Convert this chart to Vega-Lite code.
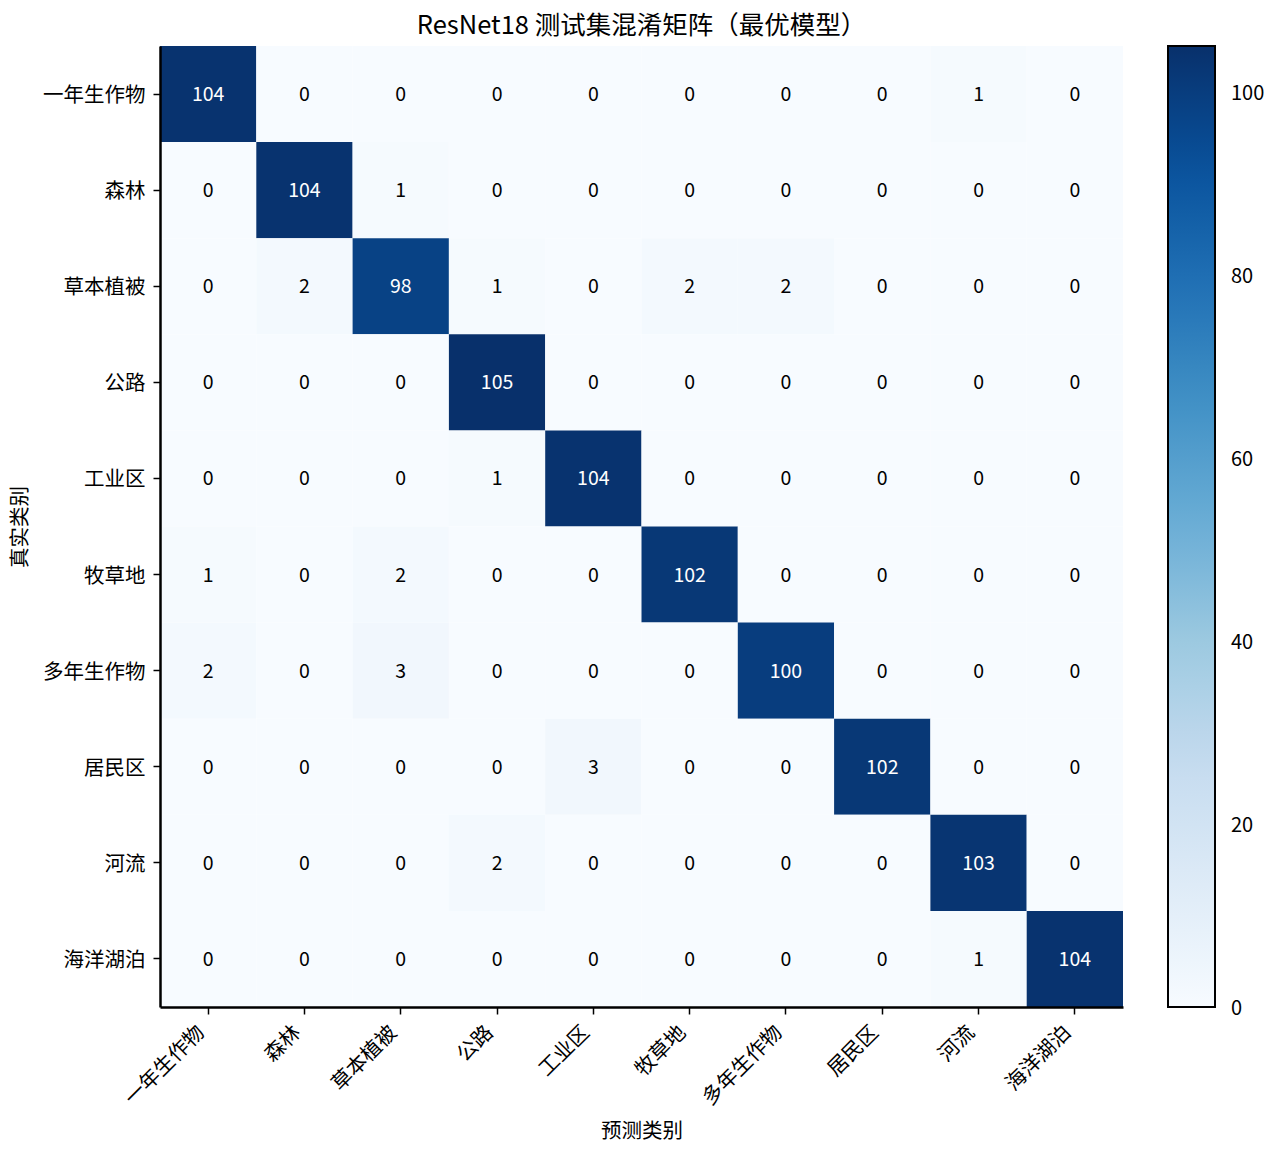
{
  "$schema": "https://vega.github.io/schema/vega-lite/v6.json",
  "description": "ResNet18 confusion matrix on the test set",
  "autosize": "none",
  "padding": {"left": 160, "top": 46, "right": 157, "bottom": 144},
  "width": 963,
  "height": 961,
  "title": {
    "text": "ResNet18 测试集混淆矩阵（最优模型）",
    "fontSize": 25.5,
    "fontWeight": "normal",
    "font": "Noto Sans CJK SC",
    "color": "black",
    "anchor": "middle",
    "frame": "group",
    "offset": 7
  },
  "data": {
    "values": [
      {"actual": "一年生作物", "predicted": "一年生作物", "count": 104},
      {"actual": "一年生作物", "predicted": "森林", "count": 0},
      {"actual": "一年生作物", "predicted": "草本植被", "count": 0},
      {"actual": "一年生作物", "predicted": "公路", "count": 0},
      {"actual": "一年生作物", "predicted": "工业区", "count": 0},
      {"actual": "一年生作物", "predicted": "牧草地", "count": 0},
      {"actual": "一年生作物", "predicted": "多年生作物", "count": 0},
      {"actual": "一年生作物", "predicted": "居民区", "count": 0},
      {"actual": "一年生作物", "predicted": "河流", "count": 1},
      {"actual": "一年生作物", "predicted": "海洋湖泊", "count": 0},
      {"actual": "森林", "predicted": "一年生作物", "count": 0},
      {"actual": "森林", "predicted": "森林", "count": 104},
      {"actual": "森林", "predicted": "草本植被", "count": 1},
      {"actual": "森林", "predicted": "公路", "count": 0},
      {"actual": "森林", "predicted": "工业区", "count": 0},
      {"actual": "森林", "predicted": "牧草地", "count": 0},
      {"actual": "森林", "predicted": "多年生作物", "count": 0},
      {"actual": "森林", "predicted": "居民区", "count": 0},
      {"actual": "森林", "predicted": "河流", "count": 0},
      {"actual": "森林", "predicted": "海洋湖泊", "count": 0},
      {"actual": "草本植被", "predicted": "一年生作物", "count": 0},
      {"actual": "草本植被", "predicted": "森林", "count": 2},
      {"actual": "草本植被", "predicted": "草本植被", "count": 98},
      {"actual": "草本植被", "predicted": "公路", "count": 1},
      {"actual": "草本植被", "predicted": "工业区", "count": 0},
      {"actual": "草本植被", "predicted": "牧草地", "count": 2},
      {"actual": "草本植被", "predicted": "多年生作物", "count": 2},
      {"actual": "草本植被", "predicted": "居民区", "count": 0},
      {"actual": "草本植被", "predicted": "河流", "count": 0},
      {"actual": "草本植被", "predicted": "海洋湖泊", "count": 0},
      {"actual": "公路", "predicted": "一年生作物", "count": 0},
      {"actual": "公路", "predicted": "森林", "count": 0},
      {"actual": "公路", "predicted": "草本植被", "count": 0},
      {"actual": "公路", "predicted": "公路", "count": 105},
      {"actual": "公路", "predicted": "工业区", "count": 0},
      {"actual": "公路", "predicted": "牧草地", "count": 0},
      {"actual": "公路", "predicted": "多年生作物", "count": 0},
      {"actual": "公路", "predicted": "居民区", "count": 0},
      {"actual": "公路", "predicted": "河流", "count": 0},
      {"actual": "公路", "predicted": "海洋湖泊", "count": 0},
      {"actual": "工业区", "predicted": "一年生作物", "count": 0},
      {"actual": "工业区", "predicted": "森林", "count": 0},
      {"actual": "工业区", "predicted": "草本植被", "count": 0},
      {"actual": "工业区", "predicted": "公路", "count": 1},
      {"actual": "工业区", "predicted": "工业区", "count": 104},
      {"actual": "工业区", "predicted": "牧草地", "count": 0},
      {"actual": "工业区", "predicted": "多年生作物", "count": 0},
      {"actual": "工业区", "predicted": "居民区", "count": 0},
      {"actual": "工业区", "predicted": "河流", "count": 0},
      {"actual": "工业区", "predicted": "海洋湖泊", "count": 0},
      {"actual": "牧草地", "predicted": "一年生作物", "count": 1},
      {"actual": "牧草地", "predicted": "森林", "count": 0},
      {"actual": "牧草地", "predicted": "草本植被", "count": 2},
      {"actual": "牧草地", "predicted": "公路", "count": 0},
      {"actual": "牧草地", "predicted": "工业区", "count": 0},
      {"actual": "牧草地", "predicted": "牧草地", "count": 102},
      {"actual": "牧草地", "predicted": "多年生作物", "count": 0},
      {"actual": "牧草地", "predicted": "居民区", "count": 0},
      {"actual": "牧草地", "predicted": "河流", "count": 0},
      {"actual": "牧草地", "predicted": "海洋湖泊", "count": 0},
      {"actual": "多年生作物", "predicted": "一年生作物", "count": 2},
      {"actual": "多年生作物", "predicted": "森林", "count": 0},
      {"actual": "多年生作物", "predicted": "草本植被", "count": 3},
      {"actual": "多年生作物", "predicted": "公路", "count": 0},
      {"actual": "多年生作物", "predicted": "工业区", "count": 0},
      {"actual": "多年生作物", "predicted": "牧草地", "count": 0},
      {"actual": "多年生作物", "predicted": "多年生作物", "count": 100},
      {"actual": "多年生作物", "predicted": "居民区", "count": 0},
      {"actual": "多年生作物", "predicted": "河流", "count": 0},
      {"actual": "多年生作物", "predicted": "海洋湖泊", "count": 0},
      {"actual": "居民区", "predicted": "一年生作物", "count": 0},
      {"actual": "居民区", "predicted": "森林", "count": 0},
      {"actual": "居民区", "predicted": "草本植被", "count": 0},
      {"actual": "居民区", "predicted": "公路", "count": 0},
      {"actual": "居民区", "predicted": "工业区", "count": 3},
      {"actual": "居民区", "predicted": "牧草地", "count": 0},
      {"actual": "居民区", "predicted": "多年生作物", "count": 0},
      {"actual": "居民区", "predicted": "居民区", "count": 102},
      {"actual": "居民区", "predicted": "河流", "count": 0},
      {"actual": "居民区", "predicted": "海洋湖泊", "count": 0},
      {"actual": "河流", "predicted": "一年生作物", "count": 0},
      {"actual": "河流", "predicted": "森林", "count": 0},
      {"actual": "河流", "predicted": "草本植被", "count": 0},
      {"actual": "河流", "predicted": "公路", "count": 2},
      {"actual": "河流", "predicted": "工业区", "count": 0},
      {"actual": "河流", "predicted": "牧草地", "count": 0},
      {"actual": "河流", "predicted": "多年生作物", "count": 0},
      {"actual": "河流", "predicted": "居民区", "count": 0},
      {"actual": "河流", "predicted": "河流", "count": 103},
      {"actual": "河流", "predicted": "海洋湖泊", "count": 0},
      {"actual": "海洋湖泊", "predicted": "一年生作物", "count": 0},
      {"actual": "海洋湖泊", "predicted": "森林", "count": 0},
      {"actual": "海洋湖泊", "predicted": "草本植被", "count": 0},
      {"actual": "海洋湖泊", "predicted": "公路", "count": 0},
      {"actual": "海洋湖泊", "predicted": "工业区", "count": 0},
      {"actual": "海洋湖泊", "predicted": "牧草地", "count": 0},
      {"actual": "海洋湖泊", "predicted": "多年生作物", "count": 0},
      {"actual": "海洋湖泊", "predicted": "居民区", "count": 0},
      {"actual": "海洋湖泊", "predicted": "河流", "count": 1},
      {"actual": "海洋湖泊", "predicted": "海洋湖泊", "count": 104}
    ]
  },
  "encoding": {
    "x": {
      "field": "predicted",
      "type": "nominal",
      "sort": ["一年生作物", "森林", "草本植被", "公路", "工业区", "牧草地", "多年生作物", "居民区", "河流", "海洋湖泊"],
      "scale": {"paddingInner": 0, "paddingOuter": 0},
      "title": "预测类别",
      "axis": {
        "labelAngle": -45,
        "labelAlign": "right",
        "labelBaseline": "middle",
        "labelOffset": -7,
        "labelPadding": 15,
        "titlePadding": 13
      }
    },
    "y": {
      "field": "actual",
      "type": "nominal",
      "sort": ["一年生作物", "森林", "草本植被", "公路", "工业区", "牧草地", "多年生作物", "居民区", "河流", "海洋湖泊"],
      "scale": {"paddingInner": 0, "paddingOuter": 0},
      "title": "真实类别",
      "axis": {"labelPadding": 8, "labelOffset": 2, "titlePadding": 12}
    }
  },
  "layer": [
    {
      "mark": {"type": "rect", "strokeWidth": 0},
      "encoding": {
        "fill": {
          "field": "count",
          "type": "quantitative",
          "scale": {
            "domain": [0, 13.125, 26.25, 39.375, 52.5, 65.625, 78.75, 91.875, 105],
            "range": ["#f7fbff", "#deebf7", "#c6dbef", "#9ecae1", "#6baed6", "#4292c6", "#2171b5", "#08519c", "#08306b"],
            "interpolate": "rgb"
          },
          "legend": {
            "title": null,
            "orient": "right",
            "offset": 45,
            "values": [0, 20, 40, 60, 80, 100],
            "gradientLength": 961,
            "gradientThickness": 47,
            "gradientStrokeColor": "black",
            "gradientStrokeWidth": 2,
            "labelBaseline": "middle",
            "labelOffset": 16,
            "labelFontSize": 20,
            "labelColor": "black",
            "labelFont": "Noto Sans CJK SC",
            "labelOverlap": false,
            "encode": {
              "labels": {"update": {"baseline": {"value": "middle"}, "dy": {"value": 2}}}
            }
          }
        }
      }
    },
    {
      "mark": {"type": "text", "fontSize": 19.5, "font": "Noto Sans CJK SC", "dy": 1},
      "encoding": {
        "text": {"field": "count", "type": "quantitative"},
        "color": {
          "condition": {"test": "datum.count > 52.5", "value": "white"},
          "value": "black"
        }
      }
    }
  ],
  "config": {
    "view": {"stroke": null},
    "font": "Noto Sans CJK SC",
    "axis": {
      "grid": false,
      "domainColor": "black",
      "domainWidth": 2.5,
      "tickColor": "black",
      "tickWidth": 1.5,
      "tickSize": 7,
      "labelColor": "black",
      "labelFontSize": 20.5,
      "labelFont": "Noto Sans CJK SC",
      "titleColor": "black",
      "titleFontSize": 20.5,
      "titleFontWeight": "normal",
      "titleFont": "Noto Sans CJK SC"
    },
    "legend": {
      "gradientVerticalMaxLength": 961
    }
  }
}
